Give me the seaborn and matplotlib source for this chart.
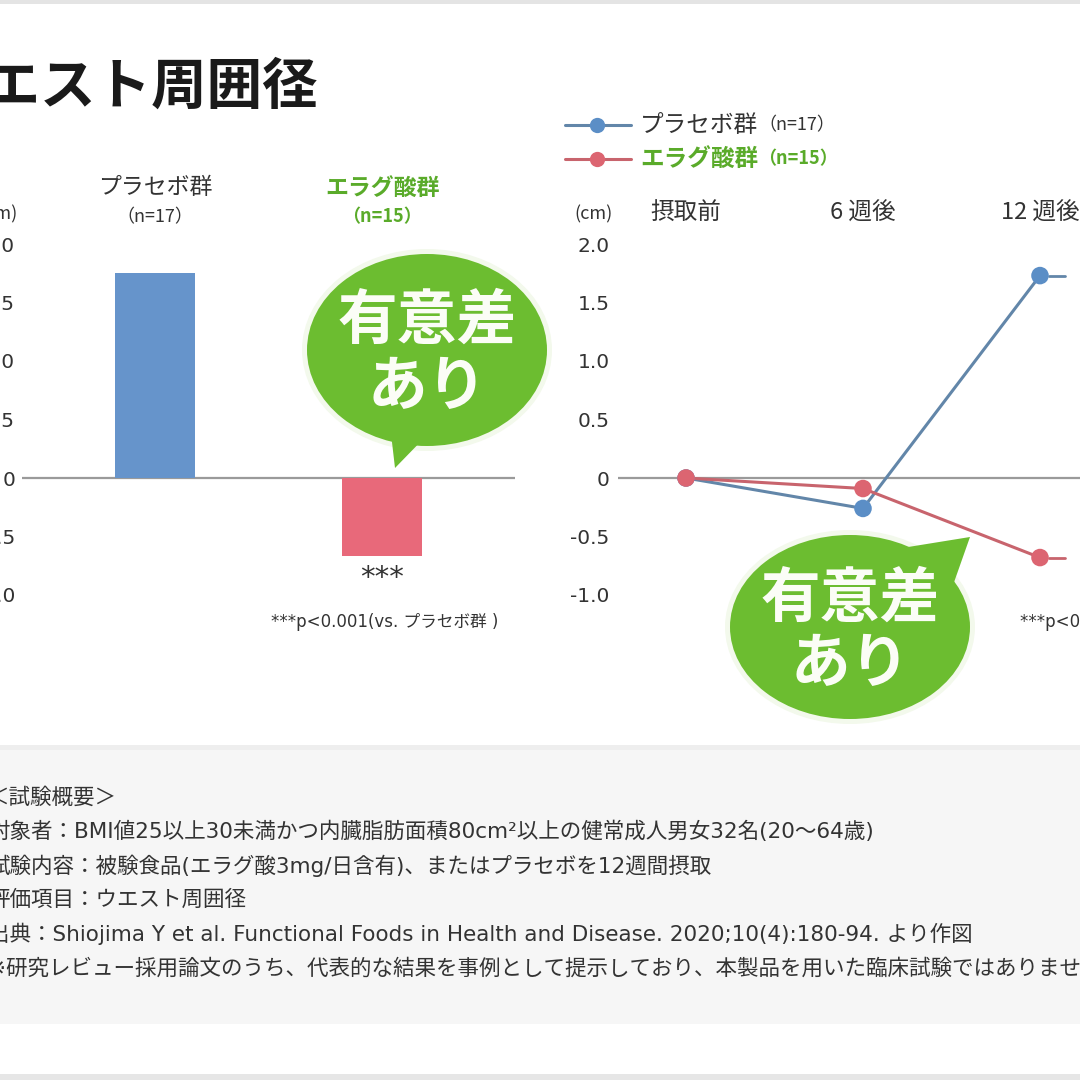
import numpy as np
import pandas as pd
import matplotlib
matplotlib.use("Agg")
import matplotlib.pyplot as plt
import seaborn as sns
from matplotlib.patches import Ellipse, Polygon, Rectangle
from matplotlib.lines import Line2D

# ---------------- data ----------------
title = "ウエスト周囲径"
bar_groups = ["プラセボ群", "エラグ酸群"]
bar_n = ["（n=17）", "（n=15）"]
bar_values = [1.75, -0.67]
time_points = ["摂取前", "6 週後", "12 週後"]
placebo_values = [0.0, -0.26, 1.73]
ellagic_values = [0.0, -0.09, -0.68]
y_ticks = [-1.0, -0.5, 0.0, 0.5, 1.0, 1.5, 2.0]
y_tick_labels = ["-1.0", "-0.5", "0", "0.5", "1.0", "1.5", "2.0"]
unit_label = "(cm)"
legend_labels = ["プラセボ群", "エラグ酸群"]
legend_n = ["（n=17）", "（n=15）"]
bubble_lines = ["有意差", "あり"]
sig_mark = "***"
p_note = "***p<0.001(vs. プラセボ群 )"
summary_lines = [
    "＜試験概要＞",
    "対象者：BMI値25以上30未満かつ内臓脂肪面積80cm²以上の健常成人男女32名(20〜64歳)",
    "試験内容：被験食品(エラグ酸3mg/日含有)、またはプラセボを12週間摂取",
    "評価項目：ウエスト周囲径",
    "出典：Shiojima Y et al. Functional Foods in Health and Disease. 2020;10(4):180-94. より作図",
    "※研究レビュー採用論文のうち、代表的な結果を事例として提示しており、本製品を用いた臨床試験ではありません。",
]

# ---------------- style ----------------
sns.set_theme(style="white")
FONT = ["Noto Sans CJK JP", "DejaVu Sans"]
LATIN_FIRST = ["DejaVu Sans", "Noto Sans CJK JP"]
plt.rcParams["font.family"] = FONT
plt.rcParams["axes.unicode_minus"] = False

BLUE_BAR = "#6694cb"
RED_BAR = "#e8697a"
BLUE_LINE = "#6286a9"
RED_LINE = "#c8646d"
BLUE_MK = "#5b8ec6"
RED_MK = "#dc6571"
GREEN = "#6cbd30"
GREEN_TXT = "#5aab2a"
DARK = "#333333"
ZERO = "#9a9a9a"

W = H = 1080
fig = plt.figure(figsize=(10.8, 10.8), dpi=100)
fig.patch.set_facecolor("white")

# background layer (pixel coordinates)
bg = fig.add_axes([0, 0, 1, 1], zorder=0)
bg.set_xlim(0, W)
bg.set_ylim(H, 0)
bg.axis("off")
bg.add_patch(Rectangle((0, 0), W, 4, color="#e4e4e4", lw=0))
bg.add_patch(Rectangle((0, 745), W, 5, color="#eeeeee", lw=0))
bg.add_patch(Rectangle((0, 750), W, 274, color="#f6f6f6", lw=0))
bg.add_patch(Rectangle((0, 1074), W, 6, color="#e6e6e6", lw=0))

# common y scale: 0 at 478px, 117px per unit
Y0, SC = 478.0, 117.0
ylo, yhi = -1.2, 2.2
top_px = Y0 - yhi * SC
bot_px = Y0 - ylo * SC
ax_bottom = (H - bot_px) / H
ax_height = (bot_px - top_px) / H


def style_yaxis(ax, pad):
    ax.set_ylim(ylo, yhi)
    ax.axhline(0, color=ZERO, lw=1.6, zorder=0.5)
    ax.set_xticks([])
    ax.set_yticks(y_ticks, y_tick_labels)
    ax.tick_params(axis="y", length=0, pad=pad, labelsize=14.5, labelcolor=DARK)
    for lab in ax.get_yticklabels():
        lab.set_fontfamily(LATIN_FIRST)
    ax.set_xlabel("")
    ax.set_ylabel("")
    for s in ax.spines.values():
        s.set_visible(False)


# ---------------- left: bar chart ----------------
L0, L1 = 22, 515
cx0, dx = 155, 227
axL = fig.add_axes([L0 / W, ax_bottom, (L1 - L0) / W, ax_height], zorder=2)
axL.patch.set_alpha(0)
df_bar = pd.DataFrame({"group": bar_groups, "value": bar_values})
sns.barplot(data=df_bar, x="group", y="value", hue="group",
            palette=[BLUE_BAR, RED_BAR], width=0.355, saturation=1,
            legend=False, ax=axL, edgecolor="none")
axL.set_xlim((L0 - cx0) / dx, (L1 - cx0) / dx)
style_yaxis(axL, 5)

for i, (g, n) in enumerate(zip(bar_groups, bar_n)):
    col = DARK if i == 0 else GREEN_TXT
    wt = "normal" if i == 0 else "bold"
    axL.text(i, (Y0 - 188) / SC, g, ha="center", va="center", fontsize=16.5,
             color=col, fontweight=wt, clip_on=False)
    axL.text(i, (Y0 - 217) / SC, n, ha="center", va="center", fontsize=13,
             color=col, fontweight=wt, clip_on=False)
axL.text(1, -(578 - Y0) / SC, sig_mark, ha="center", va="center",
         fontsize=21, color=DARK, clip_on=False, family=LATIN_FIRST)
axL.text((385 - cx0) / dx, -(622 - Y0) / SC, p_note, ha="center", va="center",
         fontsize=12, color=DARK, clip_on=False, family=LATIN_FIRST)

# ---------------- right: line chart ----------------
R0, R1 = 618, 1080
rx0, rdx = 686, 177
axR = fig.add_axes([R0 / W, ax_bottom, (R1 - R0) / W, ax_height], zorder=2)
axR.patch.set_alpha(0)
df_line = pd.DataFrame({
    "time": list(range(len(time_points))) * 2,
    "group": [legend_labels[0]] * len(time_points) + [legend_labels[1]] * len(time_points),
    "value": placebo_values + ellagic_values,
})
sns.lineplot(data=df_line, x="time", y="value", hue="group",
             palette=[BLUE_LINE, RED_LINE], lw=2.2, legend=False, ax=axR,
             sort=False)
sns.scatterplot(data=df_line, x="time", y="value", hue="group",
                palette=[BLUE_MK, RED_MK], s=160, edgecolor="none",
                legend=False, ax=axR, zorder=5)
for vals, c in [(placebo_values, BLUE_LINE), (ellagic_values, RED_LINE)]:
    axR.plot([len(vals) - 1 + 0.05, len(vals) - 1 + 0.14], [vals[-1]] * 2,
             color=c, lw=2.0, clip_on=False)
axR.set_xlim((R0 - rx0) / rdx, (R1 - rx0) / rdx)
style_yaxis(axR, 6)
for i, t in enumerate(time_points):
    axR.text(i, (Y0 - 213) / SC, t, ha="center", va="center", fontsize=17,
             color=DARK, clip_on=False)
axR.text((1020 - rx0) / rdx, -(622 - Y0) / SC, p_note, ha="left", va="center",
         fontsize=12, color=DARK, clip_on=False, family=LATIN_FIRST)

# ---------------- overlay (pixel coords) ----------------
ov = fig.add_axes([0, 0, 1, 1], zorder=4)
ov.set_xlim(0, W)
ov.set_ylim(H, 0)
ov.axis("off")
ov.patch.set_alpha(0)

# title
ov.text(318, 88, title, ha="right", va="center", fontsize=40,
        fontweight="bold", color="#1a1a1a")

# unit labels
ov.text(18, 214, unit_label, ha="right", va="center", fontsize=13, color=DARK)
ov.text(613, 214, unit_label, ha="right", va="center", fontsize=13, color=DARK)

# legend
for yy, lc, mc, lab, n, col, wt in [
    (125, BLUE_LINE, BLUE_MK, legend_labels[0], legend_n[0], DARK, "normal"),
    (159, RED_LINE, RED_MK, legend_labels[1], legend_n[1], GREEN_TXT, "bold"),
]:
    ov.add_line(Line2D([565, 631], [yy, yy], color=lc, lw=2.2))
    ov.add_line(Line2D([597], [yy], marker="o", markersize=11,
                       markerfacecolor=mc, markeredgecolor="none"))
    t1 = ov.text(640, yy, lab, ha="left", va="center", fontsize=17,
                 color=col, fontweight=wt)
    ov.annotate(n, xy=(1, 0.5), xycoords=t1, ha="left", va="center",
                fontsize=13, color=col, fontweight=wt)


# speech bubbles
def bubble(cx, cy, w, h, tail, text_y):
    ov.add_patch(Ellipse((cx, cy), w + 10, h + 10, color="#f3f9ec", lw=0, zorder=1))
    ov.add_patch(Polygon(tail, closed=True, color=GREEN, lw=0, zorder=2))
    ov.add_patch(Ellipse((cx, cy), w, h, color=GREEN, lw=0, zorder=2))
    for line, ty in zip(bubble_lines, text_y):
        ov.text(cx, ty, line, ha="center", va="center", fontsize=43,
                fontweight="bold", color="#fbfdf6", zorder=3)


bubble(427, 350, 240, 192, [(390, 425), (430, 432), (395, 468)], [322, 388])
bubble(850, 627, 240, 184, [(902, 548), (952, 588), (970, 537)], [600, 665])

# study summary
for k, line in enumerate(summary_lines):
    ov.text(-12, 797 + k * 34.3, line, ha="left", va="center", fontsize=15.5,
            color=DARK, family=LATIN_FIRST)

fig.savefig("out.png", dpi=100)
